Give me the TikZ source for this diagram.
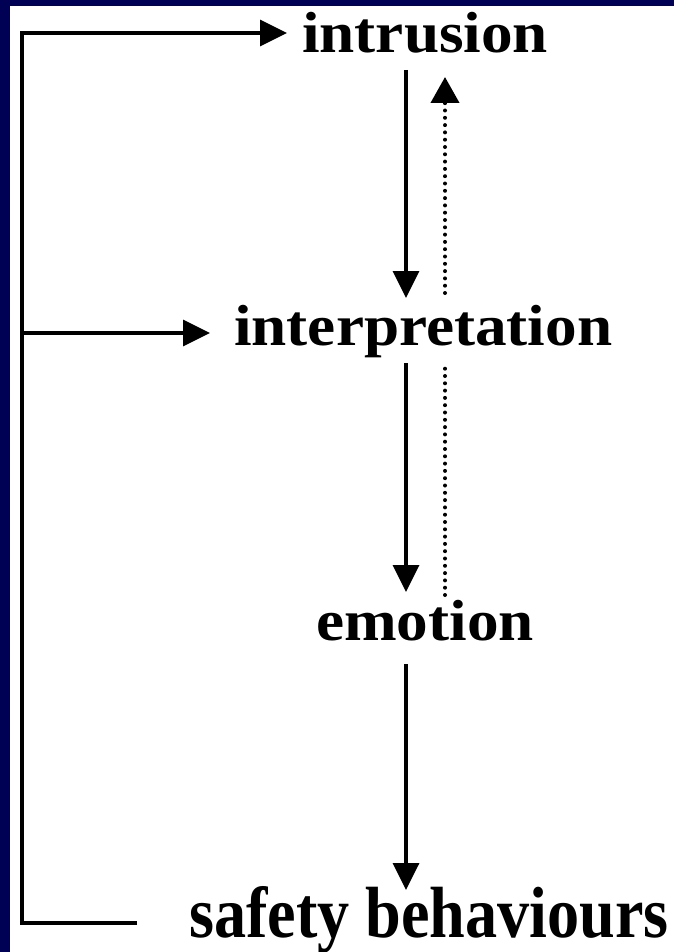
\documentclass[tikz,border=0pt]{standalone}
\usepackage{fontspec}
\setmainfont{Liberation Serif}
\usetikzlibrary{arrows.meta,calc}
\definecolor{navy}{RGB}{0,0,85}
\begin{document}
\begin{tikzpicture}[x=1pt,y=-1pt,
  lbl/.style={anchor=base west,inner sep=0pt,font=\fontsize{58}{60}\selectfont\bfseries},
  conn/.style={line width=3.6pt},
  arr/.style={conn,-{Triangle[length=27pt,width=26pt]}},
  dotline/.style={line width=4pt,line cap=round,dash pattern=on 0pt off 7.3pt}]
\useasboundingbox (0,0) rectangle (674,952);
\fill[white] (0,0) rectangle (674,952);
\fill[navy] (0,0) rectangle (674,6);
\fill[navy] (0,0) rectangle (10,952);
% labels
\node[lbl] (intr) at (302,53) {\scalebox{1.09}[1]{intrusion}};
\node[lbl] (interp) at (234,345) {\scalebox{1.09}[1]{interpretation}};
\node[lbl] (emo) at (316,640) {\scalebox{1.09}[1]{emotion}};
\node[lbl] (safe) at (189,937) {\scalebox{1.107}[1.25]{safety behaviours}};
% helper coordinates
\coordinate (sx) at (406,0);
\coordinate (dx) at (445,0);
\coordinate (lx) at (22,0);
\coordinate (ltop) at ($(intr.base -| lx)+(0,-20)$);
\coordinate (lmid) at ($(interp.base -| lx)+(0,-12)$);
\coordinate (lbot) at ($(safe.base -| lx)+(0,-14)$);
\coordinate (bend) at ($(safe.base west)+(-52,-14)$);
% feedback loop
\draw[arr] (bend) -- (lbot) -- (ltop) -- ($(intr.base west)+(-15,-20)$);
\draw[arr] (lmid) -- ($(interp.base west)+(-24,-12)$);
% main chain
\draw[arr] ($(intr.base -| sx)+(0,17)$) -- ($(interp.base -| sx)+(0,-47)$);
\draw[arr] ($(interp.base -| sx)+(0,18)$) -- ($(emo.base -| sx)+(0,-48)$);
\draw[arr] ($(emo.base -| sx)+(0,24)$) -- ($(safe.base -| sx)+(0,-47)$);
% dotted feedback
\draw[dotline] ($(emo.base -| dx)+(0,-45)$) -- ($(interp.base -| dx)+(0,23)$);
\draw[dotline,-{Triangle[length=26pt,width=28pt]}] ($(interp.base -| dx)+(0,-52)$) -- ($(intr.base -| dx)+(0,24)$);
\end{tikzpicture}
\end{document}
